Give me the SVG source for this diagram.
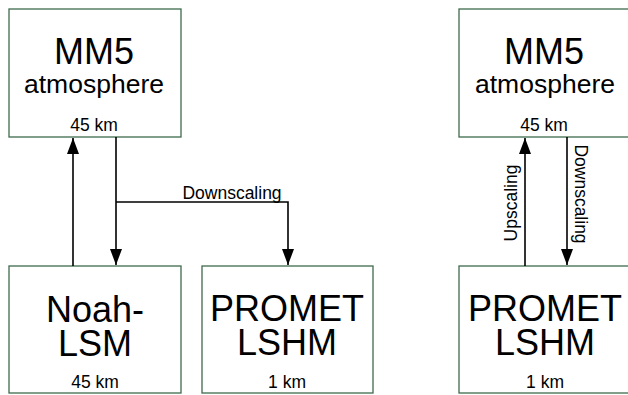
<svg xmlns="http://www.w3.org/2000/svg" width="628" height="395" viewBox="0 0 628 395">
<defs>
<style>
.box{fill:#fff;stroke:#3d6b4b;stroke-width:1.3}
.t{font-family:"Liberation Sans",Arial,sans-serif;fill:#000;text-anchor:middle}
.big{font-size:36px}
.mid{font-size:26.5px}
.sm{font-size:17.5px}
.ln{fill:none;stroke:#000;stroke-width:1.6}
</style>
<marker id="ah" markerUnits="userSpaceOnUse" markerWidth="17" markerHeight="12" refX="16" refY="6" orient="auto">
<path d="M0,0 L16,6 L0,12 z" fill="#000"/>
</marker>
</defs>
<rect width="628" height="395" fill="#fff"/>
<g id="mm5-left">
<rect class="box" x="9" y="9" width="172" height="128"/>
<text class="t big" x="94" y="64">MM5</text>
<text class="t mid" x="94" y="93">atmosphere</text>
<text class="t sm" x="94" y="131">45 km</text>
</g>
<g id="noah">
<rect class="box" x="9" y="266" width="172" height="127"/>
<text class="t big" x="95" y="322">Noah-</text>
<text class="t big" x="95" y="356">LSM</text>
<text class="t sm" x="95" y="388">45 km</text>
</g>
<g id="promet-left">
<rect class="box" x="202" y="266" width="171" height="127"/>
<text class="t big" x="287" y="321">PROMET</text>
<text class="t big" x="287" y="355">LSHM</text>
<text class="t sm" x="287" y="388">1 km</text>
</g>
<g id="mm5-right">
<rect class="box" x="459" y="9" width="172" height="128"/>
<text class="t big" x="544" y="64">MM5</text>
<text class="t mid" x="545" y="93">atmosphere</text>
<text class="t sm" x="544" y="131">45 km</text>
</g>
<g id="promet-right">
<rect class="box" x="459" y="266" width="172" height="127"/>
<text class="t big" x="545" y="321">PROMET</text>
<text class="t big" x="545" y="355">LSHM</text>
<text class="t sm" x="545" y="388">1 km</text>
</g>
<g id="connectors">
<line class="ln" x1="73" y1="266" x2="73" y2="138" marker-end="url(#ah)"/>
<line class="ln" x1="116" y1="137" x2="116" y2="265" marker-end="url(#ah)"/>
<polyline class="ln" points="116,202 288,202 288,265" marker-end="url(#ah)"/>
<text class="t sm" x="232" y="199">Downscaling</text>
<line class="ln" x1="525" y1="266" x2="525" y2="138" marker-end="url(#ah)"/>
<line class="ln" x1="567" y1="137" x2="567" y2="265" marker-end="url(#ah)"/>
<text class="t sm" transform="translate(517,203) rotate(-90)">Upscaling</text>
<text class="t sm" transform="translate(575,194) rotate(90)">Downscaling</text>
</g>
</svg>
